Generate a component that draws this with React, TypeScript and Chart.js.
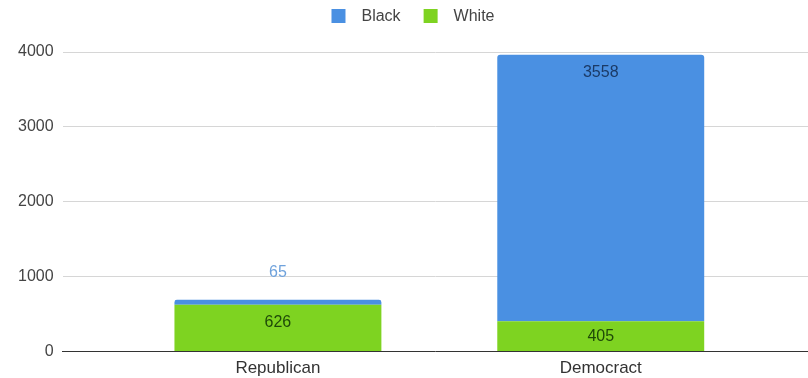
import { useEffect, useRef } from 'react';
import { Chart, registerables } from 'chart.js';

Chart.register(...registerables);

const categories = ['Republican', 'Democract'];
const seriesNames = ['White', 'Black'];
const whiteValues = [626, 405];
const blackValues = [65, 3558];
const yTicks = [0, 1000, 2000, 3000, 4000];

const BLUE = '#4a90e2';
const GREEN = '#7ed321';
const FONT = "'Liberation Sans', Arial, sans-serif";
const seriesColors = [GREEN, BLUE];
const insideLabelColors = ['#1f4a08', '#1b3a66'];
const outsideLabelColors = ['#5f9a2a', '#6fa2dc'];
const legendOrder = [1, 0];

const barLabelPlugin = {
  id: 'barLabels',
  afterDatasetsDraw(chart: any) {
    const ctx = chart.ctx;
    ctx.save();
    ctx.font = `16px ${FONT}`;
    ctx.textAlign = 'center';
    ctx.textBaseline = 'middle';
    chart.data.datasets.forEach((ds: any, di: number) => {
      const meta = chart.getDatasetMeta(di);
      meta.data.forEach((bar: any, i: number) => {
        const v = ds.data[i].y;
        const { x, y, base } = bar.getProps(['x', 'y', 'base'], true);
        const h = base - y;
        let ty: number;
        if (h < 24) {
          ty = y - 27;
          ctx.fillStyle = outsideLabelColors[di];
        } else {
          ty = y + Math.min(18, h / 2);
          ctx.fillStyle = insideLabelColors[di];
        }
        ctx.fillText(String(v), x, ty);
      });
    });
    ctx.restore();
  },
};

const legendPlugin = {
  id: 'topLegend',
  afterDraw(chart: any) {
    const ctx = chart.ctx;
    ctx.save();
    ctx.font = `16px ${FONT}`;
    ctx.textBaseline = 'middle';
    ctx.textAlign = 'left';
    const box = 14;
    const gapText = 16;
    const gapItem = 23;
    const items = legendOrder.map((di) => ({
      label: chart.data.datasets[di].label,
      color: chart.data.datasets[di].backgroundColor,
      w: ctx.measureText(chart.data.datasets[di].label).width,
    }));
    const total = items.reduce((s, it) => s + box + gapText + it.w, 0) + gapItem * (items.length - 1);
    let x = chart.width / 2 + 9 - total / 2;
    const y = 16;
    items.forEach((it) => {
      ctx.fillStyle = it.color;
      ctx.fillRect(x, y - box / 2, box, box);
      ctx.fillStyle = '#444';
      ctx.fillText(it.label, x + box + gapText, y + 1);
      x += box + gapText + it.w + gapItem;
    });
    ctx.restore();
  },
};

export default function App() {
  const ref = useRef<HTMLCanvasElement | null>(null);

  useEffect(() => {
    if (!ref.current) return;
    const chart = new Chart(ref.current, {
      type: 'bar',
      data: {
        datasets: [
          {
            label: seriesNames[0],
            data: categories.map((_, i) => ({ x: i, y: whiteValues[i] })),
            backgroundColor: seriesColors[0],
            borderWidth: 0,
            categoryPercentage: 1,
            barPercentage: 0.641,
          },
          {
            label: seriesNames[1],
            data: categories.map((_, i) => ({ x: i, y: blackValues[i] })),
            backgroundColor: seriesColors[1],
            borderWidth: 0,
            borderRadius: { topLeft: 3, topRight: 3, bottomLeft: 0, bottomRight: 0 },
            borderSkipped: false,
            categoryPercentage: 1,
            barPercentage: 0.641,
          },
        ],
      } as any,
      options: {
        animation: false,
        responsive: true,
        maintainAspectRatio: false,
        layout: { padding: { top: 52, left: 9, right: 0, bottom: -8 } },
        plugins: {
          legend: { display: false },
          tooltip: { enabled: false },
        },
        scales: {
          x: {
            type: 'linear',
            stacked: true,
            offset: false,
            min: -0.667,
            max: 1.642,
            afterBuildTicks: (scale: any) => {
              scale.ticks = categories.map((_, i) => ({ value: i }));
            },
            ticks: {
              callback: (v: any) => categories[Number(v)] ?? '',
              color: '#333',
              font: { family: FONT, size: 17 },
              padding: 7,
              autoSkip: false,
              maxRotation: 0,
            },
            grid: { display: false, offset: false, drawTicks: false },
            border: { display: true, color: '#333', width: 1 },
          },
          y: {
            stacked: true,
            min: 0,
            max: 4000,
            afterBuildTicks: (scale: any) => {
              scale.ticks = yTicks.map((v) => ({ value: v }));
            },
            ticks: {
              callback: (v: any) => String(v),
              color: '#444',
              font: { family: FONT, size: 16 },
              padding: 9,
            },
            grid: {
              drawTicks: false,
              color: (c: any) => (c.tick && c.tick.value === 0 ? 'rgba(0,0,0,0)' : '#d6d6d6'),
            },
            border: { display: false },
          },
        },
      } as any,
      plugins: [barLabelPlugin, legendPlugin],
    });
    return () => chart.destroy();
  }, []);

  return (
    <div style={{ position: 'fixed', left: 0, top: 0, width: 808, height: 378 }}>
      <canvas ref={ref} />
    </div>
  );
}
